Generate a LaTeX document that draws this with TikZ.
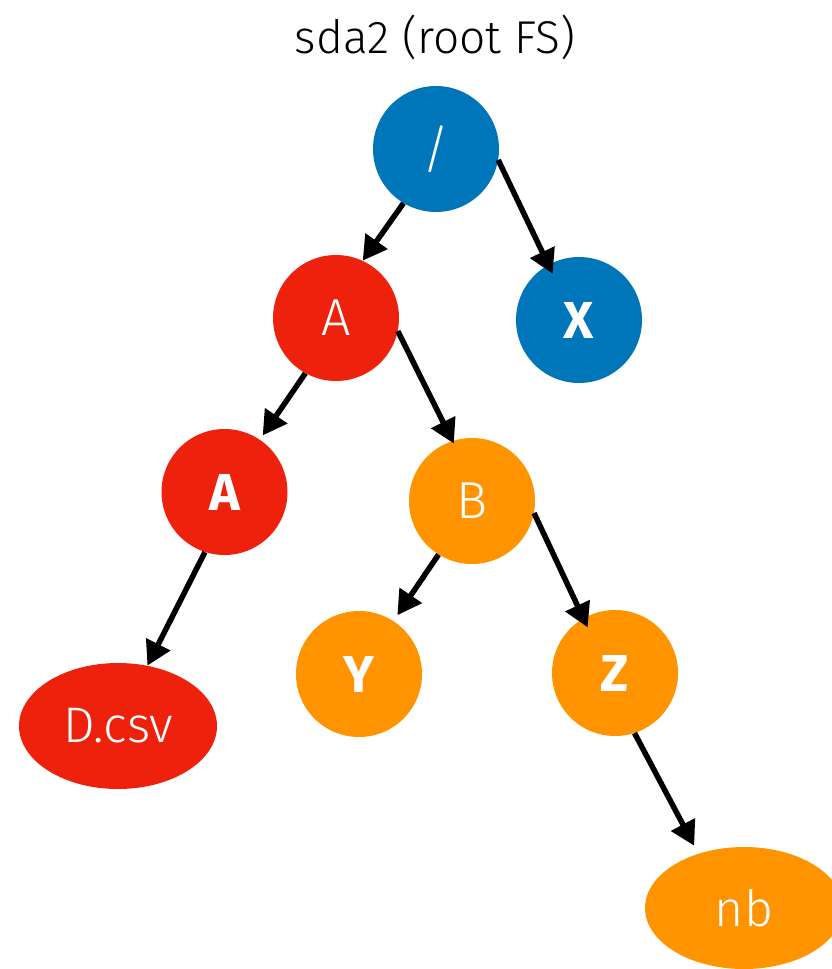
\documentclass[tikz,border=0pt]{standalone}
\usepackage{fontspec}
\setmainfont{Fira Sans}[UprightFont={* Light}, BoldFont={* Bold}]
\usetikzlibrary{arrows.meta,shapes.geometric}
\definecolor{kblue}{RGB}{0,118,186}
\definecolor{kred}{RGB}{238,34,12}
\definecolor{korange}{RGB}{255,147,0}
\begin{document}
\begin{tikzpicture}[x=1pt,y=-1pt,
  dnode/.style={circle, minimum size=126pt, inner sep=0pt, text=white,
    font=\fontsize{52}{52}\selectfont},
  bnode/.style={dnode, font=\fontsize{52}{52}\selectfont\bfseries},
  fnode/.style={ellipse, inner sep=0pt, text=white,
    font=\fontsize{50}{50}\selectfont},
  arr/.style={-{Triangle[length=24pt,width=26pt]}, line width=5.5pt, black}]
\clip (0,0) rectangle (832,969);
\node[anchor=base, font=\fontsize{46}{46}\selectfont] (title) at (435,53) {sda2 (root FS)};
\node[dnode, fill=kblue] (root) at (436,149) {/};
\node[bnode, fill=kblue] (X) at (579,320) {X};
\node[dnode, fill=kred] (A1) at (336,318) {A};
\node[bnode, fill=kred] (A2) at (224.5,492) {A};
\node[dnode, fill=korange] (B) at (472,501) {B};
\node[bnode, fill=korange] (Y) at (359,674) {Y};
\node[bnode, fill=korange] (Z) at (615,673) {Z};
\node[fnode, fill=kred, minimum width=198pt, minimum height=126pt] (D) at (118,726) {D.csv};
\node[fnode, fill=korange, minimum width=198pt, minimum height=122pt] (nb) at (744,908) {nb};
\draw[arr] (root.-121.9) -- (A1.65.9);
\draw[arr, shorten >=-10pt] (root.-10.1) -- (X.119.5);
\draw[arr, shorten >=5pt] (A1.-119.4) -- (A2.56.7);
\draw[arr, shorten >=-3pt] (A1.-12.9) -- (B.108.4);
\draw[arr] (A2.-108) -- (D.64.2);
\draw[arr, shorten >=7pt] (B.-122.2) -- (Y.57.2);
\draw[arr, shorten >=-10pt] (B.-11.1) -- (Z.120.4);
\draw[arr, shorten >=9pt] (Z.-72.5) -- (nb.130.4);
\end{tikzpicture}
\end{document}
